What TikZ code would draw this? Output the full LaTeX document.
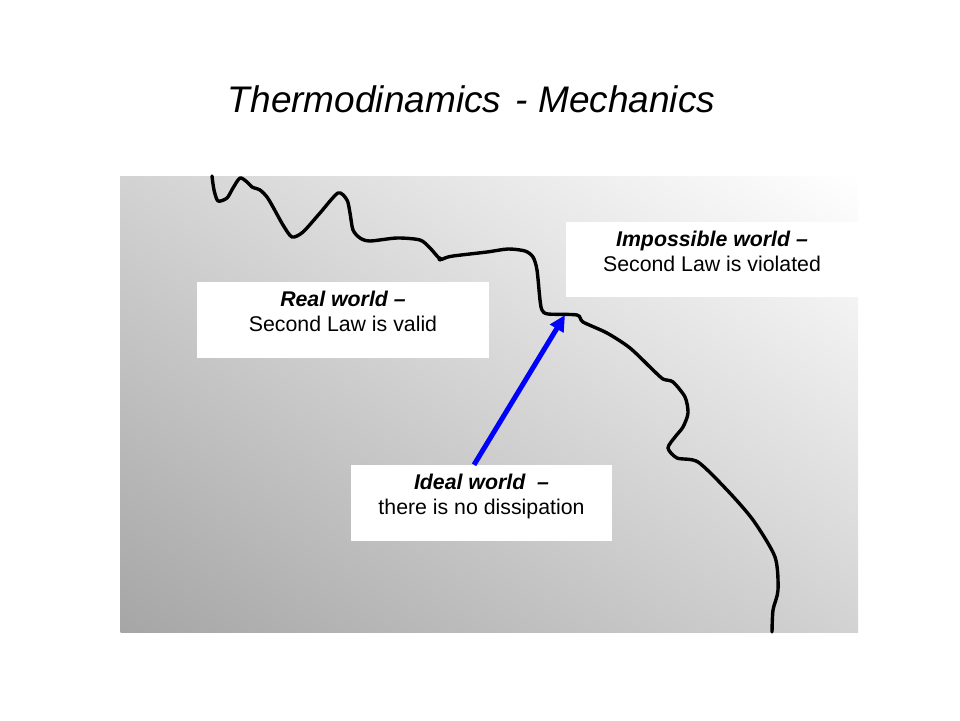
\documentclass[tikz,border=0pt]{standalone}
\usepackage{fontspec}
\setmainfont{Liberation Sans}
\usetikzlibrary{positioning,arrows.meta}
\tikzset{
  worldbox/.style={fill=white, inner sep=0pt, minimum height=76pt},
  worldtext/.style={inner sep=0pt, align=center, font=\fontsize{21.3}{25}\selectfont},
  border/.style={line width=3.4pt, line join=round, line cap=round}
}
\begin{document}
\begin{tikzpicture}[x=1pt, y=-1pt, >=stealth, line join=round, line cap=round]
\useasboundingbox (0,0) rectangle (960,720);
\def\xmin{120} \def\xmax{858} % panel
\def\ymin{176} \def\ymax{632}
\begin{scope}
\clip (\xmin,\ymin) rectangle (\xmax,\ymax);
\shade[transform canvas={rotate around={-31.7:(489,404)}},
  bottom color=black!35, middle color=black!12, top color=white]
  (-111,792) rectangle (1089,16);
\end{scope}
\node[anchor=base, font=\fontsize{37}{44}\selectfont\itshape] (title) at (471.5,112) {Thermodinamics\kern4pt\ - Mechanics};
% boundary between the worlds
\draw[border] plot[smooth, tension=0.45] coordinates {
  (212,176) (214,190) (218,201) (227,198) (233,188) (240,178) (247,182) (252,187)
  (260,190) (267,197) (273,207) (283,225) (292,237) (303,232) (320,213) (338,193)
  (347,200) (350,213) (353,230) (360,238) (370,241) (397,238) (420,240) (430,248)
  (440,259) (445,258) (453,256) (487,252) (508,249) (525,251) (533,257) (537,270)
  (540,300) (542,310) (548,314) (577,315) (583,322) (607,333) (630,348) (653,370)
  (663,379) (673,382) (685,397) (688,413) (683,427) (675,437) (668,448) (677,458)
  (698,462) (727,490) (753,520) (775,557) (778,590) (773,610) (772,632)};
\fill (440,259) circle (2.6);
\coordinate (tip) at (565,315);
% boxes
\node[worldbox, minimum width=292pt] (real) at (343,320) {};
\node[worldtext, below=9.5pt of real.north] (realtext) {\textbf{\textit{Real world –}}\\Second Law is valid};
\node[worldbox, minimum width=292pt, minimum height=75pt] (impossible) at (712,259.5) {};
\node[worldtext, below=9.5pt of impossible.north] (impossibletext) {\textbf{\textit{Impossible world –}}\\Second Law is violated};
\node[worldbox, minimum width=261pt] (ideal) at (481.5,503) {};
\node[worldtext, below=9.5pt of ideal.north] (idealtext) {\textbf{\textit{Ideal world~ –}}\\there is no dissipation};
\draw[blue, line width=5pt, line cap=butt, -{Triangle[length=16pt, width=15pt]}] ([xshift=-7.5pt]ideal.north) -- (tip);
\end{tikzpicture}
\end{document}
